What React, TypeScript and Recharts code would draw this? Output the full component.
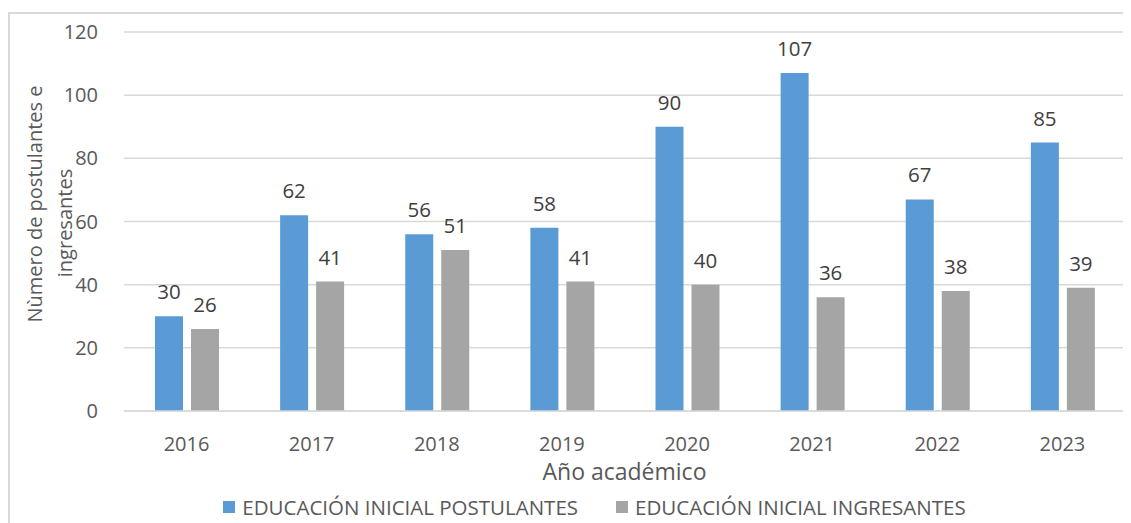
import { BarChart, Bar, XAxis, YAxis, CartesianGrid, LabelList, Legend, Label } from 'recharts'

const YEARS = ['2016', '2017', '2018', '2019', '2020', '2021', '2022', '2023']
const POSTULANTES = [30, 62, 56, 58, 90, 107, 67, 85]
const INGRESANTES = [26, 41, 51, 41, 40, 36, 38, 39]
const Y_TICKS = [0, 20, 40, 60, 80, 100, 120]

const SERIES = [
  { key: 'postulantes', name: 'EDUCACIÓN INICIAL POSTULANTES', color: '#5B9BD5' },
  { key: 'ingresantes', name: 'EDUCACIÓN INICIAL INGRESANTES', color: '#A5A5A5' },
]

const FONT = '"Open Sans", sans-serif'
const TEXT = '#595959'

const data = YEARS.map((year, i) => ({
  year,
  postulantes: POSTULANTES[i],
  ingresantes: INGRESANTES[i],
}))

function LegendContent() {
  return (
    <div style={{ display: 'flex', justifyContent: 'center', gap: 38, fontFamily: FONT, fontSize: 20.5, color: TEXT, lineHeight: '24px' }}>
      {SERIES.map(s => (
        <div key={s.key} style={{ display: 'flex', alignItems: 'center' }}>
          <span style={{ width: 12, height: 12, background: s.color, marginRight: 7, display: 'inline-block' }} />
          <span>{s.name}</span>
        </div>
      ))}
    </div>
  )
}

// two-line rotated axis title, like the original
function YTitle() {
  const y1 = 196
  const y2 = 215
  return (
    <g fill={TEXT} fontFamily={FONT} fontSize={20}>
      <text x={26} y={y1} transform={`rotate(-90, 26, ${y1})`} textAnchor="middle" dominantBaseline="central">
        Nùmero de postulantes e
      </text>
      <text x={56} y={y2} transform={`rotate(-90, 56, ${y2})`} textAnchor="middle" dominantBaseline="central">
        ingresantes
      </text>
    </g>
  )
}

export default function App() {
  return (
    <div style={{ position: 'relative', width: 1123, height: 515 }}>
      <div
        style={{
          position: 'absolute',
          left: 0,
          top: 4,
          width: 1140,
          height: 540,
          border: '2px solid #D9D9D9',
          boxSizing: 'border-box',
        }}
      />
      <BarChart
        width={1123}
        height={515}
        data={data}
        margin={{ top: 24, right: 6, left: 56, bottom: 4 }}
        barSize={28}
        barGap={8}
        style={{ position: 'absolute', left: 0, top: 0 }}
      >
        <CartesianGrid vertical={false} stroke="#D9D9D9" strokeWidth={1.5} />
        <XAxis
          dataKey="year"
          height={84}
          tickLine={false}
          axisLine={{ stroke: '#D9D9D9', strokeWidth: 1.5 }}
          tick={{ fill: TEXT, fontSize: 20, fontFamily: FONT }}
          tickMargin={20}
        >
          <Label value="Año académico" position="insideBottom" offset={15} fill={TEXT} fontSize={23} fontFamily={FONT} />
        </XAxis>
        <YAxis
          width={60}
          domain={[0, 120]}
          ticks={Y_TICKS}
          tickLine={false}
          axisLine={false}
          tick={{ fill: TEXT, fontSize: 20, fontFamily: FONT }}
          tickMargin={20}
        >
          <Label content={<YTitle />} />
        </YAxis>
        <Legend verticalAlign="bottom" height={24} content={<LegendContent />} />
        {SERIES.map(s => (
          <Bar key={s.key} dataKey={s.key} name={s.name} fill={s.color} isAnimationActive={false}>
            <LabelList dataKey={s.key} position="top" offset={17} fill="#404040" fontSize={20.5} fontFamily={FONT} />
          </Bar>
        ))}
      </BarChart>
    </div>
  )
}
